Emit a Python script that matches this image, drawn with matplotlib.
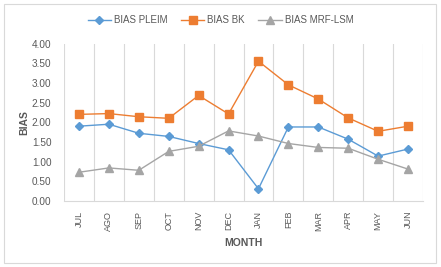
import matplotlib.pyplot as plt
from matplotlib.patches import Rectangle

plt.rcParams['font.family'] = ['Liberation Sans', 'DejaVu Sans']

months = ['JUL', 'AGO', 'SEP', 'OCT', 'NOV', 'DEC', 'JAN', 'FEB', 'MAR', 'APR', 'MAY', 'JUN']
bias_pleim = [1.90, 1.95, 1.72, 1.64, 1.46, 1.30, 0.31, 1.88, 1.88, 1.57, 1.14, 1.32]
bias_bk = [2.20, 2.22, 2.14, 2.10, 2.68, 2.21, 3.55, 2.95, 2.59, 2.11, 1.77, 1.90]
bias_mrf = [0.73, 0.84, 0.78, 1.26, 1.39, 1.78, 1.65, 1.46, 1.36, 1.34, 1.06, 0.81]

grey = '#595959'
fig = plt.figure(figsize=(4.41, 2.67), dpi=100)
ax = fig.add_axes([64 / 441, 66 / 267, 359 / 441, 157.5 / 267])

x = range(len(months))
ax.plot(x, bias_pleim, color='#5B9BD5', marker='D', markersize=4, lw=1, label='BIAS PLEIM')
ax.plot(x, bias_bk, color='#ED7D31', marker='s', markersize=5.5, lw=1, label='BIAS BK')
ax.plot(x, bias_mrf, color='#A5A5A5', marker='^', markersize=5.5, lw=1, label='BIAS MRF-LSM')

ax.set_xlim(-0.5, len(months) - 0.5)
ax.set_ylim(0, 4)
ax.set_yticks([i * 0.5 for i in range(9)])
ax.set_yticklabels([f'{i * 0.5:.2f}' for i in range(9)], fontsize=7.2, color=grey)
ax.set_xticks(list(x))
ax.set_xticklabels(months, rotation=90, fontsize=6.5, color=grey)
ax.tick_params(length=0, pad=7)
ax.tick_params(axis='y', pad=9)

# category boundary gridlines
for b in range(len(months) + 1):
    ax.axvline(b - 0.5, color='#D9D9D9', lw=0.8, zorder=0)

for s in ['top', 'right', 'left']:
    ax.spines[s].set_visible(False)
ax.spines['bottom'].set_color('#D9D9D9')

ax.set_ylabel('BIAS', fontsize=7.5, fontweight='bold', color=grey)
ax.yaxis.set_label_coords(-35 / 359, 0.5)
ax.set_xlabel('MONTH', fontsize=7.5, fontweight='bold', color=grey, labelpad=5)

fig.legend(loc='center', bbox_to_anchor=(0.5, 1 - 20 / 267), ncol=3, frameon=False,
           fontsize=7, labelcolor=grey, handlelength=2.4, columnspacing=1.4, handletextpad=0.3)

fig.patches.append(Rectangle((4 / 441, 4 / 267), 432 / 441, 259 / 267, transform=fig.transFigure,
                             fill=False, edgecolor='#D9D9D9', lw=0.8))

fig.savefig('out.png', dpi=100)
